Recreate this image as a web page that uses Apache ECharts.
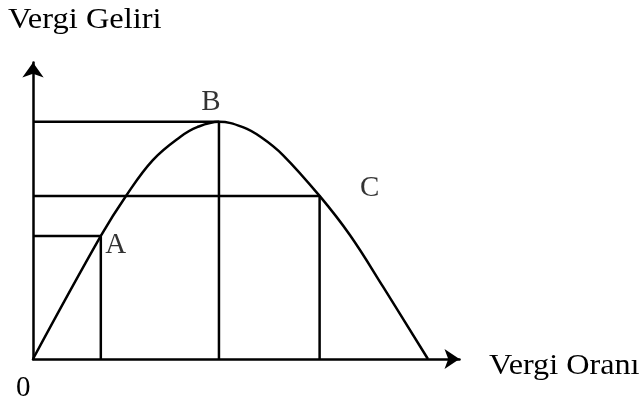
<!DOCTYPE html>
<html>
<head>
<meta charset="utf-8">
<script src="https://cdn.jsdelivr.net/npm/echarts@6/dist/echarts.min.js"></script>
<style>
  html, body { margin: 0; padding: 0; background: #fff; }
  #chart { width: 642px; height: 406px; }
</style>
</head>
<body>
<div id="chart"></div>
<script>
// Laffer egrisi - vergi orani (x) / vergi geliri (y)
var curveX = [0, 15.9, 21.8, 28.1, 34.5, 38.5, 43.6, 49.2, 53.5, 58.6, 67.2, 74.3, 82.1, 92.6];
var curveY = [0, 41.5, 55.0, 67.1, 74.9, 78.2, 80, 78.2, 74.8, 68.8, 55.0, 41.8, 24.3, 0];

// A, B, C noktalari
var pointNames = ['A', 'B', 'C'];
var pointX = [15.9, 43.6, 67.2];
var pointY = [41.5, 80, 55.0];

var xName = 'Vergi Oranı';
var yName = 'Vergi Geliri';
var originLabel = '0';

var FONT = '"Liberation Serif", "Times New Roman", serif';
var labelOffsets = [[15, 9], [-8, -19.5], [50, -7.5]];

var chart = echarts.init(document.getElementById('chart'));

var curveData = curveX.map(function (x, i) { return [x, curveY[i]]; });

var series = [{
  type: 'line',
  data: curveData,
  smooth: 0.4,
  showSymbol: false,
  lineStyle: { color: '#000', width: 2.5 },
  z: 3
}];

// her nokta icin eksenlere inen kilavuz cizgileri
pointNames.forEach(function (name, i) {
  series.push({
    type: 'line',
    data: [[0, pointY[i]], [pointX[i], pointY[i]], [pointX[i], 0]],
    showSymbol: false,
    lineStyle: { color: '#000', width: 2.5 },
    z: 2
  });
});

series.push({
  type: 'scatter',
  symbolSize: 0,
  data: pointNames.map(function (n, i) {
    return {
      name: n,
      value: [pointX[i], pointY[i]],
      label: { offset: labelOffsets[i] }
    };
  }),
  label: {
    show: true,
    position: 'inside',
    formatter: '{b}',
    color: '#000',
    fontFamily: FONT,
    fontSize: 29
  },
  z: 4
});

var option = {
  animation: false,
  backgroundColor: '#fff',
  grid: { left: 33, right: 182.5, top: 62.5, bottom: 47 },
  xAxis: {
    type: 'value', min: 0, max: 100,
    axisLine: { show: true, symbol: ['none', 'arrow'], symbolSize: [15, 15], lineStyle: { color: '#000', width: 2.5 } },
    axisTick: { show: false }, axisLabel: { show: false }, splitLine: { show: false }
  },
  yAxis: {
    type: 'value', min: 0, max: 100,
    axisLine: { show: true, symbol: ['none', 'arrow'], symbolSize: [16, 15], lineStyle: { color: '#000', width: 2.5 } },
    axisTick: { show: false }, axisLabel: { show: false }, splitLine: { show: false }
  },
  graphic: [
    { type: 'text', x: 8, y: 5.5, scaleX: 1.12, style: { text: yName, font: '29px ' + FONT, fill: '#000', verticalAlign: 'top' } },
    { type: 'text', x: 489, y: 351.5, scaleX: 1.11, style: { text: xName, font: '29px ' + FONT, fill: '#000', verticalAlign: 'top' } },
    { type: 'text', x: 16, y: 373.5, style: { text: originLabel, font: '29px ' + FONT, fill: '#000', verticalAlign: 'top' } }
  ],
  series: series
};

chart.setOption(option);
</script>
</body>
</html>
